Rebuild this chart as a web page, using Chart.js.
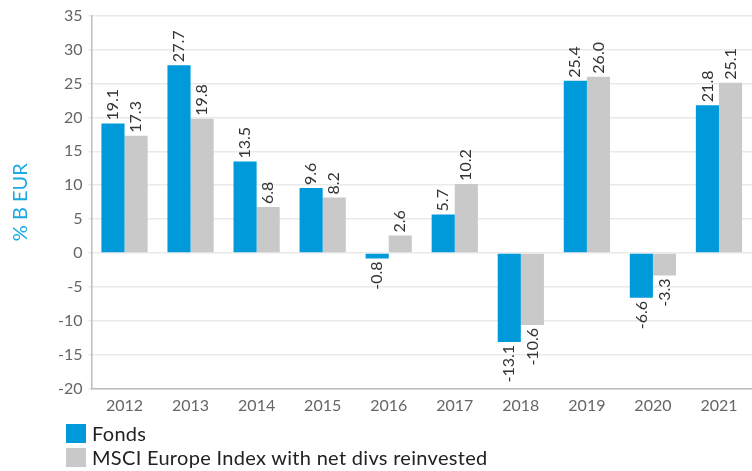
<!DOCTYPE html>
<html>
<head>
<meta charset="utf-8">
<script src="https://cdn.jsdelivr.net/npm/chart.js@4"></script>
<style>
  html, body { margin: 0; padding: 0; background: #fff; }
  #wrap { position: relative; width: 752px; height: 471px; }
  #legend { position: absolute; left: 66px; top: 421px; font-family: Lato, "Open Sans", sans-serif; font-size: 20px; letter-spacing: 0.3px; color: #222; }
  .li { display: flex; align-items: center; height: 24px; }
  .sw { width: 20px; height: 19px; margin-right: 6px; }
</style>
</head>
<body>
<div id="wrap">
  <canvas id="c" width="752" height="471"></canvas>
  <div id="legend"></div>
</div>
<script>
const categories = ['2012','2013','2014','2015','2016','2017','2018','2019','2020','2021'];
const fonds = [19.1, 27.7, 13.5, 9.6, -0.8, 5.7, -13.1, 25.4, -6.6, 21.8];
const msci = [17.3, 19.8, 6.8, 8.2, 2.6, 10.2, -10.6, 26.0, -3.3, 25.1];
const seriesNames = ['Fonds', 'MSCI Europe Index with net divs reinvested'];
const seriesColors = ['#009ADA', '#C9C9C9'];
const yTitle = '% B EUR';

const FONT = 'Lato, "Open Sans", sans-serif';

const labelPlugin = {
  id: 'barLabels',
  afterDatasetsDraw(chart) {
    const ctx = chart.ctx;
    ctx.save();
    ctx.font = '16px ' + FONT;
    ctx.fillStyle = '#333';
    ctx.textBaseline = 'middle';
    chart.data.datasets.forEach((ds, di) => {
      const meta = chart.getDatasetMeta(di);
      meta.data.forEach((bar, i) => {
        const v = ds.data[i];
        const txt = v.toFixed(1);
        ctx.save();
        ctx.translate(bar.x, bar.y);
        ctx.rotate(-Math.PI / 2);
        if (v >= 0) {
          ctx.textAlign = 'left';
          ctx.fillText(txt, 3, 0);
        } else {
          ctx.textAlign = 'right';
          ctx.fillText(txt, -3, 0);
        }
        ctx.restore();
      });
    });
    ctx.restore();
  }
};

new Chart(document.getElementById('c'), {
  type: 'bar',
  data: {
    labels: categories,
    datasets: [
      { label: seriesNames[0], data: fonds, backgroundColor: seriesColors[0] },
      { label: seriesNames[1], data: msci, backgroundColor: seriesColors[1] }
    ]
  },
  options: {
    responsive: false,
    animation: false,
    layout: { padding: { top: 8, right: 0, bottom: 49, left: 9 } },
    datasets: { bar: { categoryPercentage: 0.7, barPercentage: 1.0 } },
    plugins: {
      legend: { display: false },
      tooltip: { enabled: false }
    },
    scales: {
      x: {
        grid: { display: false, drawTicks: false },
        border: { color: '#BDBDBD', width: 1.5 },
        ticks: { color: '#666', font: { size: 16, family: FONT }, padding: 7 }
      },
      y: {
        min: -20, max: 35,
        ticks: { stepSize: 5, color: '#666', font: { size: 16, family: FONT }, padding: 6 },
        grid: { color: '#EAEAEA', lineWidth: 1.5, tickLength: 3 },
        border: { color: '#BDBDBD', width: 1.5 },
        title: { display: true, text: yTitle, color: '#1BA9E1', font: { size: 20, family: FONT }, padding: { top: 0, bottom: 19 } }
      }
    }
  },
  plugins: [labelPlugin]
});

const lg = document.getElementById('legend');
seriesNames.forEach((n, i) => {
  const d = document.createElement('div');
  d.className = 'li';
  d.innerHTML = '<div class="sw" style="background:' + seriesColors[i] + '"></div><span>' + n + '</span>';
  lg.appendChild(d);
});
</script>
</body>
</html>
